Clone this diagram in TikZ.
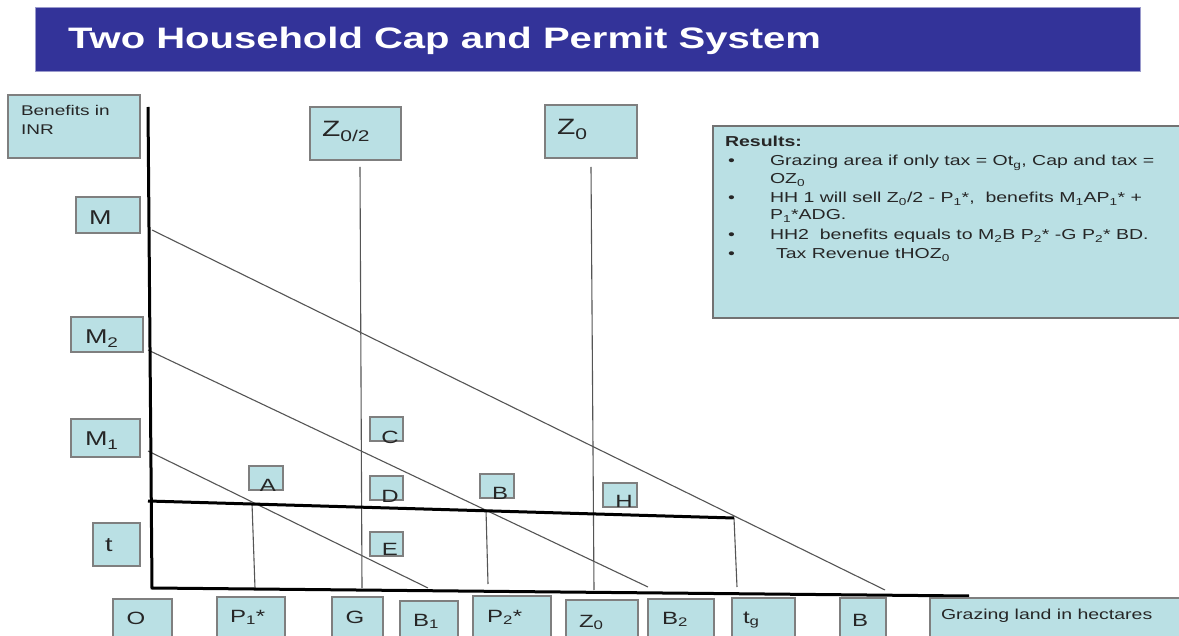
\documentclass[tikz,border=0pt]{standalone}
\usepackage{graphicx}
\usepackage{fontspec}
\setmainfont{Liberation Sans}
\definecolor{boxfill}{HTML}{BAE0E4}
\definecolor{boxborder}{HTML}{7F7F7F}
\definecolor{titlebar}{HTML}{333399}
\definecolor{titleedge}{HTML}{9A9ACC}
\definecolor{linegray}{HTML}{555555}
\definecolor{txtcol}{HTML}{262626}
\newcommand{\sq}[1]{\scalebox{1}[0.74]{#1}}
\newcommand{\fs}[1]{\fontsize{#1}{#1}\selectfont}
\newcommand{\bx}[5]{\node[box, minimum width={#4-#2}, minimum height={#5-#3}] (#1) at ({(#2+#4)/2},{(#3+#5)/2}) {};}
\tikzset{
  box/.style={draw=boxborder, fill=boxfill, line width=1.3, inner sep=0, outer sep=0},
  txt/.style={inner sep=0, outer sep=0, anchor=base west, text=txtcol},
  txtc/.style={inner sep=0, outer sep=0, anchor=base, text=txtcol},
  thinline/.style={draw=linegray, line width=1.1},
  axisline/.style={draw=black, line width=3},
}
\begin{document}
\begin{tikzpicture}[x=1pt,y=-1pt]
\useasboundingbox (0,0) rectangle (1179,636);
\clip (0,0) rectangle (1179,636);
\fill[white] (0,0) rectangle (1179,636);

% title
\node[draw=titleedge, fill=titlebar, line width=1, minimum width=1105, minimum height=64, inner sep=0] (title) at (587.5,40) {};
\node[inner sep=0, anchor=base west, text=white] (titletext) at (68,49) {\fs{40}\bfseries\sq{Two Household Cap and Permit System}};

% coordinates
\coordinate (yt) at (148,107);
\coordinate (o) at (152,588);
\coordinate (xe) at (969,596);
\coordinate (tl) at (148,501);
\coordinate (tr) at (734,518);
\coordinate (m) at (152,230);
\coordinate (mb) at (885,590);
\coordinate (mtwo) at (148,350);
\coordinate (mtwob) at (648,587);
\coordinate (mone) at (148,451);
\coordinate (moneb) at (428,588);
\coordinate (gt) at (360,167);
\coordinate (gb) at (362,588);
\coordinate (zt) at (591,167);
\coordinate (zb) at (594,590);
\coordinate (pone) at (252,503);
\coordinate (poneb) at (255,588);
\coordinate (ptwo) at (486,510);
\coordinate (ptwob) at (488,584);
\coordinate (tgb) at (737,587);

% thin lines
\draw[thinline] (m) -- (mb);
\draw[thinline] (mtwo) -- (mtwob);
\draw[thinline] (mone) -- (moneb);
\draw[thinline] (gt) -- (gb);
\draw[thinline] (zt) -- (zb);
\draw[thinline] (pone) -- (poneb);
\draw[thinline] (ptwo) -- (ptwob);
\draw[thinline] (tr) -- (tgb);

% axes and tax line
\draw[axisline] (yt) -- (o) -- (xe);
\draw[axisline] (tl) -- (tr);

% boxes
\bx{ben}{8}{95}{140}{158}
\bx{bM}{76}{197}{140}{233}
\bx{bZh}{310}{107}{401}{160}
\bx{bZt}{545}{105}{637}{158}
\bx{bMtwo}{71}{317}{143}{352}
\bx{bMone}{71}{419}{140}{457}
\bx{bt}{93}{523}{140}{566}
\bx{bA}{249}{466}{283}{490}
\bx{bC}{370}{417}{403}{441}
\bx{bD}{370}{476}{403}{500}
\bx{bE}{370}{532}{403}{556}
\bx{bB}{480}{474}{514}{498}
\bx{bH}{603}{483}{637}{507}
\node[box, draw=boxborder!90!black, line width=1.8, minimum width=472, minimum height=192] (res) at (949,222) {};
\bx{bO}{113}{599}{172}{645}
\bx{bPone}{217}{597}{285}{645}
\bx{bG}{332}{597}{383}{645}
\bx{bBone}{400}{601}{458}{645}
\bx{bPtwo}{473}{596}{551}{645}
\bx{bZb}{566}{600}{638}{645}
\bx{bBtwo}{648}{599}{714}{645}
\bx{btg}{732}{598}{795}{645}
\bx{bBB}{840}{598}{886}{645}
\bx{bGraz}{930}{598}{1185}{645}

% labels
\node[txt] (lBen1) at (21,116) {\fs{19}\sq{Benefits in}};
\node[txt] (lBen2) at (21,135) {\fs{19}\sq{INR}};
\node[txt] (lM) at (89,225) {\fs{27}\sq{M}};
\node[txt] (lMtwo) at (85,344) {\fs{27}\sq{M\textsubscript{2}}};
\node[txt] (lMone) at (85,446) {\fs{27}\sq{M\textsubscript{1}}};
\node[txtc] (lt) at (109,551) {\fs{27}\sq{t}};
\node[txt] (lZh) at (322,137) {\fs{30}\sq{Z\textsubscript{0/2}}};
\node[txt] (lZt) at (557,135) {\fs{30}\sq{Z\textsubscript{0}}};
\node[txtc] (lA) at (268,491) {\fs{24}\sq{A}};
\node[txtc] (lC) at (390,443) {\fs{24}\sq{C}};
\node[txtc] (lD) at (390,502) {\fs{24}\sq{D}};
\node[txtc] (lE) at (390,555) {\fs{24}\sq{E}};
\node[txtc] (lB) at (500,499) {\fs{24}\sq{B}};
\node[txtc] (lH) at (624,507) {\fs{24}\sq{H}};

\node[txtc] (lO) at (136,624) {\fs{24}\sq{O}};
\node[txt] (lPone) at (230,622) {\fs{24}\sq{P\textsubscript{1}*}};
\node[txtc] (lG) at (355,623) {\fs{24}\sq{G}};
\node[txt] (lBone) at (413,626) {\fs{24}\sq{B\textsubscript{1}}};
\node[txt] (lPtwo) at (487,622) {\fs{24}\sq{P\textsubscript{2}*}};
\node[txt] (lZb) at (579,627) {\fs{24}\sq{Z\textsubscript{0}}};
\node[txt] (lBtwo) at (662,624) {\fs{24}\sq{B\textsubscript{2}}};
\node[txt] (ltg) at (743,623) {\fs{24}\sq{t\textsubscript{g}}};
\node[txtc] (lBB) at (860,626) {\fs{24}\sq{B}};
\node[txt] (lGraz) at (941,619) {\fs{19.5}\sq{Grazing land in hectares}};

% results text
\node[txt] (rHead) at (725,147) {\fs{19.5}\bfseries\sq{Results:}};
\node[txt] (rb1) at (728,166) {\fs{19.5}\sq{•}};
\node[txt] (r1) at (770,166) {\fs{19.5}\sq{Grazing area if only tax = Ot\textsubscript{g}, Cap and tax =}};
\node[txt] (r1b) at (770,184) {\fs{19.5}\sq{OZ\textsubscript{0}}};
\node[txt] (rb2) at (728,203) {\fs{19.5}\sq{•}};
\node[txt] (r2) at (770,203) {\fs{19.5}\sq{HH 1 will sell Z\textsubscript{0}/2 - P\textsubscript{1}*,\ \ benefits M\textsubscript{1}AP\textsubscript{1}* +}};
\node[txt] (r2b) at (770,220) {\fs{19.5}\sq{P\textsubscript{1}*ADG.}};
\node[txt] (rb3) at (728,240) {\fs{19.5}\sq{•}};
\node[txt] (r3) at (770,240) {\fs{19.5}\sq{HH2\ \ benefits equals to M\textsubscript{2}B P\textsubscript{2}* -G P\textsubscript{2}* BD.}};
\node[txt] (rb4) at (728,259) {\fs{19.5}\sq{•}};
\node[txt] (r4) at (776,259) {\fs{19.5}\sq{Tax Revenue tHOZ\textsubscript{0}}};
\end{tikzpicture}
\end{document}
